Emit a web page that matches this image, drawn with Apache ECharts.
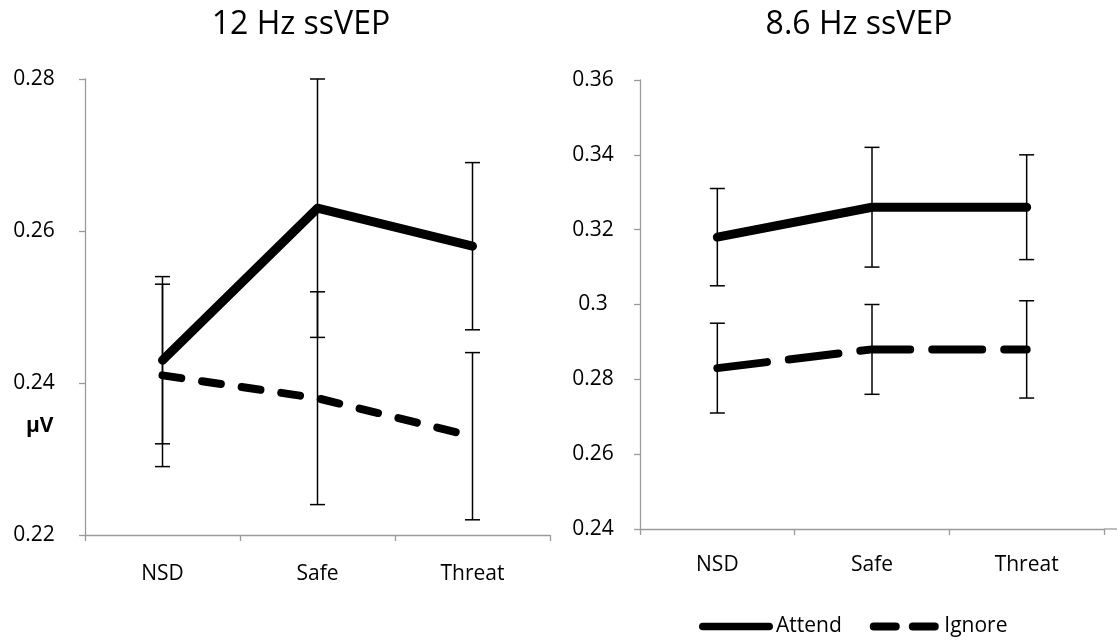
<!DOCTYPE html>
<html>
<head>
<meta charset="utf-8">
<script src="https://cdn.jsdelivr.net/npm/echarts@6/dist/echarts.min.js"></script>
<style>
html,body{margin:0;padding:0;background:#fff;}
#main{width:1117px;height:643px;}
</style>
</head>
<body>
<div id="main"></div>
<script>
// ---- data ----
const categories = ['NSD', 'Safe', 'Threat'];
const seriesNames = ['Attend', 'Ignore'];
const titles = ['12 Hz ssVEP', '8.6 Hz ssVEP'];
const yLabel = 'μV';

// 12 Hz panel
const attend12 = [0.243, 0.263, 0.258];
const attendErr12 = [0.011, 0.017, 0.011];
const ignore12 = [0.241, 0.238, 0.233];
const ignoreErr12 = [0.012, 0.014, 0.011];
const yTicks12 = [0.22, 0.24, 0.26, 0.28];

// 8.6 Hz panel
const attend86 = [0.318, 0.326, 0.326];
const attendErr86 = [0.013, 0.016, 0.014];
const ignore86 = [0.283, 0.288, 0.288];
const ignoreErr86 = [0.012, 0.012, 0.013];
const yTicks86 = [0.24, 0.26, 0.28, 0.30, 0.32, 0.34, 0.36];

// ---- helpers ----
function errData(means, errs) {
  return means.map((m, i) => [i, m - errs[i], m + errs[i]]);
}
function renderErr(params, api) {
  const x = api.value(0);
  const lo = api.coord([x, api.value(1)]);
  const hi = api.coord([x, api.value(2)]);
  const hw = 7.5;
  const st = { stroke: '#000', lineWidth: 1.5 };
  return {
    type: 'group',
    children: [
      { type: 'line', shape: { x1: lo[0], y1: lo[1], x2: hi[0], y2: hi[1] }, style: st },
      { type: 'line', shape: { x1: lo[0] - hw, y1: lo[1], x2: lo[0] + hw, y2: lo[1] }, style: st },
      { type: 'line', shape: { x1: hi[0] - hw, y1: hi[1], x2: hi[0] + hw, y2: hi[1] }, style: st }
    ]
  };
}
const FONT = '"Open Sans", sans-serif';
const axisLineStyle = { color: '#9a9a9a', width: 1.3 };

function xAxis(gi, margin) {
  return {
    type: 'category', gridIndex: gi, data: categories, boundaryGap: true,
    axisLine: { show: true, lineStyle: axisLineStyle },
    axisTick: { show: true, length: 6, lineStyle: axisLineStyle, alignWithLabel: false },
    axisLabel: { fontFamily: FONT, fontSize: 21, color: '#000', margin: margin },
    splitLine: { show: false }
  };
}
function yAxis(gi, ticks, margin) {
  return {
    type: 'value', gridIndex: gi,
    min: ticks[0], max: ticks[ticks.length - 1], interval: 0.02,
    axisLine: { show: true, lineStyle: axisLineStyle },
    axisTick: { show: true, length: 6, lineStyle: axisLineStyle },
    axisLabel: {
      fontFamily: FONT, fontSize: 21, color: '#000', margin: margin, align: 'center',
      formatter: v => String(+v.toFixed(2))
    },
    splitLine: { show: false }
  };
}
function lineSeries(name, data, gi, dashed, dash) {
  return {
    name: name, type: 'line', xAxisIndex: gi, yAxisIndex: gi, data: data,
    symbol: 'none', z: 2, silent: true,
    lineStyle: {
      color: '#000', width: dashed ? 8 : 9, cap: 'round', join: 'round',
      type: dashed ? dash : 'solid'
    },
    itemStyle: { color: '#000' }
  };
}
function errSeries(name, means, errs, gi) {
  return {
    name: name, type: 'custom', xAxisIndex: gi, yAxisIndex: gi,
    data: errData(means, errs), renderItem: renderErr,
    encode: { x: 0, y: [1, 2] }, z: 3, silent: true
  };
}

const attendIcon = 'path://M4,0 H74 A4,4 0 0 1 74,8 H4 A4,4 0 0 1 4,0 Z';
const ignoreIcon = 'path://M4,0 H26 A4,4 0 0 1 26,8 H4 A4,4 0 0 1 4,0 Z M43,0 H65 A4,4 0 0 1 65,8 H43 A4,4 0 0 1 43,0 Z';

const chart = echarts.init(document.getElementById('main'), null, { renderer: 'canvas' });
chart.setOption({
  backgroundColor: '#fff',
  animation: false,
  title: [
    { text: titles[0], left: 296, top: 4, textAlign: 'center',
      textStyle: { fontFamily: FONT, fontSize: 32, fontWeight: 'normal', color: '#000' } },
    { text: titles[1], left: 854, top: 4, textAlign: 'center',
      textStyle: { fontFamily: FONT, fontSize: 32, fontWeight: 'normal', color: '#000' } }
  ],
  legend: {
    data: [
      { name: seriesNames[0], icon: attendIcon },
      { name: seriesNames[1], icon: ignoreIcon }
    ],
    left: 694, top: 611, itemWidth: 74, itemHeight: 8, itemGap: 28,
    selectedMode: false,
    itemStyle: { color: '#000' },
    textStyle: { fontFamily: FONT, fontSize: 21, color: '#000', padding: [0, 0, 0, -2] }
  },
  grid: [
    { left: 85, top: 79, width: 465, height: 456, containLabel: false, outerBoundsMode: 'none' },
    { left: 640, top: 80, width: 464, height: 449, containLabel: false, outerBoundsMode: 'none' }
  ],
  xAxis: [xAxis(0, 29), xAxis(1, 26)],
  yAxis: [yAxis(0, yTicks12, 51), yAxis(1, yTicks86, 47)],
  graphic: [
    { type: 'text', left: 26, top: 416,
      style: { text: yLabel, fontFamily: FONT, fontSize: 21, fontWeight: 'bold', fill: '#000' } },
    { type: 'line', shape: { x1: 1104, y1: 529, x2: 1117, y2: 529 },
      style: { stroke: '#9a9a9a', lineWidth: 1.3 } }
  ],
  series: [
    lineSeries(seriesNames[0], attend12, 0, false),
    lineSeries(seriesNames[1], ignore12, 0, true, [19, 21]),
    lineSeries(seriesNames[0], attend86, 1, false),
    lineSeries(seriesNames[1], ignore86, 1, true, [50, 22]),
    errSeries('errA12', attend12, attendErr12, 0),
    errSeries('errI12', ignore12, ignoreErr12, 0),
    errSeries('errA86', attend86, attendErr86, 1),
    errSeries('errI86', ignore86, ignoreErr86, 1)
  ]
});
</script>
</body>
</html>
